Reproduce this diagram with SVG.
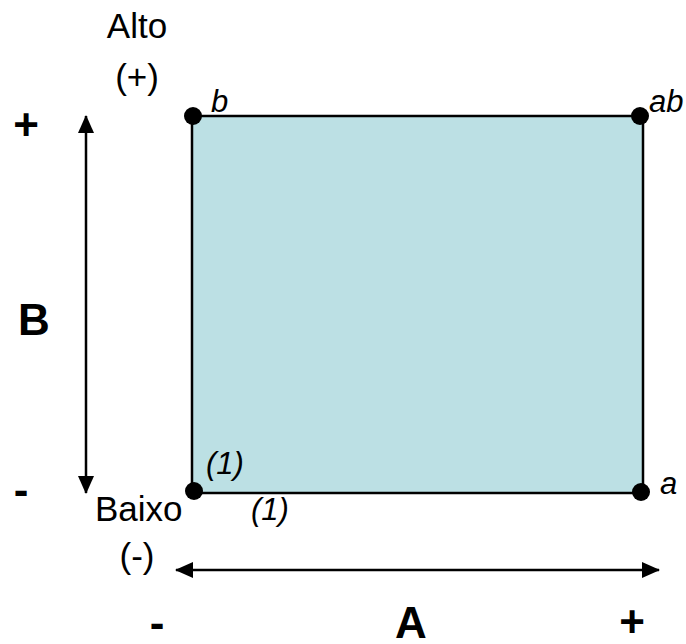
<svg xmlns="http://www.w3.org/2000/svg" width="686" height="644" viewBox="0 0 686 644">
<style>
text{font-family:"Liberation Sans",Arial,sans-serif;fill:#000}
.lbl{font-size:35px}
.it{font-size:31px;font-style:italic}
.bd{font-weight:bold;font-size:44px}
.ax{stroke:#000;stroke-width:2.5;fill:none}
.dot{fill:#000}
</style>
<defs>
<marker id="ah" markerUnits="userSpaceOnUse" markerWidth="18" markerHeight="16" viewBox="0 0 18 16" refX="17" refY="8" orient="auto-start-reverse">
<path d="M0,0 L18,8 L0,16 Z" fill="#000"/>
</marker>
</defs>
<g id="region">
<rect x="192" y="116" width="451" height="377" fill="#BCE0E4" stroke="#000" stroke-width="2.5"/>
</g>
<g id="connectors">
<line class="ax" x1="86" y1="116" x2="86" y2="493" marker-start="url(#ah)" marker-end="url(#ah)"/>
<line class="ax" x1="176" y1="570" x2="659" y2="570" marker-start="url(#ah)" marker-end="url(#ah)"/>
</g>
<g id="node-b"><circle class="dot" cx="193" cy="116" r="9"/><text class="it" x="211" y="112">b</text></g>
<g id="node-ab"><circle class="dot" cx="640" cy="116" r="9"/><text class="it" x="649" y="112">ab</text></g>
<g id="node-1"><circle class="dot" cx="194" cy="491" r="9"/><text class="it" x="206" y="474">(1)</text><text class="it" x="251" y="520">(1)</text></g>
<g id="node-a"><circle class="dot" cx="641" cy="492" r="9"/><text class="it" x="660" y="494">a</text></g>
<g id="labels">
<text class="lbl" x="137" y="38" text-anchor="middle">Alto</text>
<text class="lbl" x="137" y="89" text-anchor="middle">(+)</text>
<text class="lbl" x="95" y="521">Baixo</text>
<text class="lbl" x="137" y="568" text-anchor="middle">(-)</text>
<text class="bd" x="26" y="140" text-anchor="middle">+</text>
<text class="bd" x="34" y="335" text-anchor="middle">B</text>
<text class="bd" x="21" y="505" text-anchor="middle">-</text>
<text class="bd" x="157" y="638" text-anchor="middle">-</text>
<text class="bd" x="411" y="638" text-anchor="middle">A</text>
<text class="bd" x="632" y="637" text-anchor="middle">+</text>
</g>
</svg>
